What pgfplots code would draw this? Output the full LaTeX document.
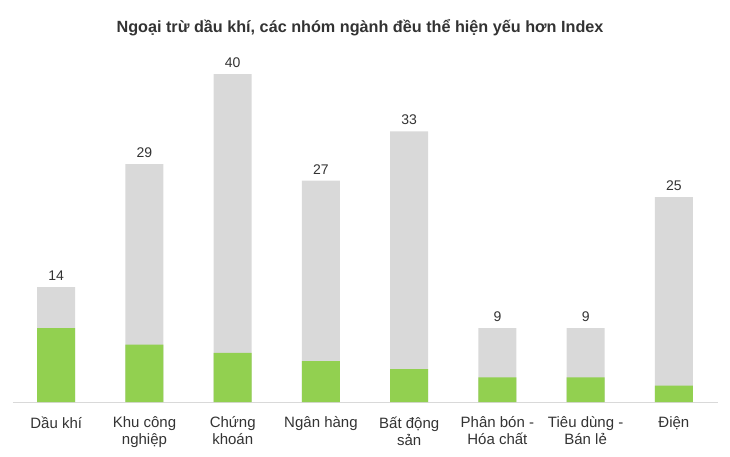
\documentclass[border=0pt]{standalone}
\usepackage{pgfplots}
\usepackage{pgfplotstable}
\pgfplotsset{compat=1.18}
\usepackage{fontspec}
\setmainfont{Liberation Sans}

\definecolor{barGray}{HTML}{D9D9D9}
\definecolor{barGreen}{HTML}{92D050}
\definecolor{txt}{HTML}{333333}

% x: category index, total: grey bar, green: overlaid part
\pgfplotstableread{
x total green
0 14 9
1 29 7
2 40 6
3 27 5
4 33 4
5 9  3
6 9  3
7 25 2
}\sectors

\begin{document}
\begin{tikzpicture}[x=1pt,y=1pt]
\useasboundingbox (0,0) rectangle (730,456);
\node[font=\fontsize{16.2}{19}\selectfont\bfseries, text=txt] at (360,428)
  {Ngoại trừ dầu khí, các nhóm ngành đều thể hiện yếu hơn Index};
\begin{axis}[
    at={(13pt,54pt)}, anchor=south west,
    scale only axis, width=705pt, height=369pt,
    xmin=-0.49, xmax=7.5, ymin=0, ymax=45,
    enlargelimits=false,
    ybar, bar width=38pt,
    hide y axis,
    axis x line*=bottom,
    x axis line style={draw=barGray, line width=0.8pt},
    xtick=data, major tick length=0pt,
    xticklabels={Dầu khí, {Khu công\\nghiệp}, {Chứng\\khoán}, Ngân hàng,
      {Bất động\\sản}, {Phân bón -\\Hóa chất}, {Tiêu dùng -\\Bán lẻ}, Điện},
    xticklabel style={align=center, font=\fontsize{15}{17}\selectfont,
      text=txt, anchor=north, yshift=-11pt},
    /pgf/number format/assume math mode=true,
    clip=false,
]
\addplot[fill=barGray, draw=none, bar shift=0pt,
    nodes near coords,
    every node near coord/.append style={font=\fontsize{14}{16}\selectfont,
      text=txt, yshift=3pt}]
    table[x=x, y=total]{\sectors};
\addplot[fill=barGreen, draw=none, bar shift=0pt]
    table[x=x, y=green]{\sectors};
\end{axis}
\end{tikzpicture}
\end{document}
